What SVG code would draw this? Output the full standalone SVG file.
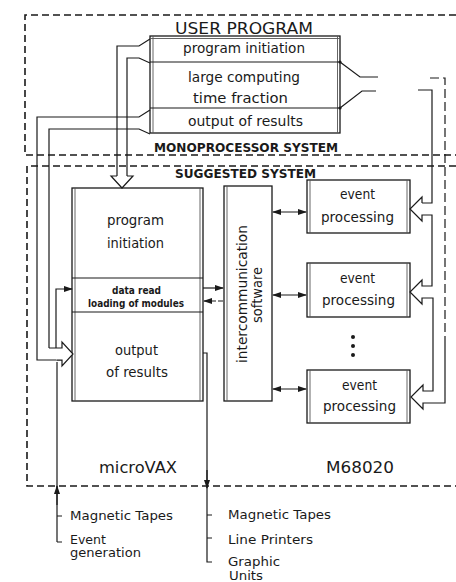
<svg xmlns="http://www.w3.org/2000/svg" width="456" height="582" viewBox="0 0 456 582">
<defs>
<marker id="ah" markerWidth="9" markerHeight="7" refX="8" refY="3.5" orient="auto-start-reverse" markerUnits="userSpaceOnUse">
<path d="M0,0.5 L9,3.5 L0,6.5 z" fill="#1a1a1a"/>
</marker>
<style>
text{font-family:"DejaVu Sans","Liberation Sans",sans-serif;fill:#1a1a1a}
.t{font-size:13.5px}
.b{font-weight:bold}
.ln{fill:none;stroke:#1a1a1a;stroke-width:1.2}
.box{fill:none;stroke:#1a1a1a;stroke-width:1.3}
.in{fill:none;stroke:#555;stroke-width:0.9}
.dash{fill:none;stroke:#1a1a1a;stroke-width:1.6;stroke-dasharray:7 4}
.hol{fill:#fff;stroke:#1a1a1a;stroke-width:1.2;stroke-linejoin:miter}
</style>
</defs>
<rect width="456" height="582" fill="#fff"/>

<g id="monoprocessor-system">
<path class="dash" d="M456,15 H25 V155 H456"/>
<text class="b" x="154" y="152" font-size="13" textLength="184" lengthAdjust="spacingAndGlyphs">MONOPROCESSOR SYSTEM</text>
</g>
<g id="suggested-system">
<path class="dash" d="M456,166 H27 V486 H456"/>
<text class="b" x="175" y="178" font-size="13" textLength="141" lengthAdjust="spacingAndGlyphs">SUGGESTED SYSTEM</text>
</g>

<g id="user-program">
<text x="175" y="34" font-size="16.5" textLength="138" lengthAdjust="spacingAndGlyphs">USER  PROGRAM</text>
<rect class="box" x="150" y="36" width="190" height="97"/>
<path class="in" d="M153,36 V133 M150,38.5 H340 M337.5,36 V133"/>
<path class="ln" d="M150,62 H340 M150,108 H340"/>
<text class="t" x="183" y="53" textLength="122" lengthAdjust="spacingAndGlyphs">program initiation</text>
<text class="t" x="188" y="82" textLength="112" lengthAdjust="spacingAndGlyphs">large computing</text>
<text class="t" x="193" y="103" textLength="95" lengthAdjust="spacingAndGlyphs">time fraction</text>
<text class="t" x="188" y="126" textLength="115" lengthAdjust="spacingAndGlyphs">output of results</text>
</g>

<g id="microvax">
<rect class="box" x="72" y="188" width="131" height="213"/>
<path class="in" d="M75,188 V401 M200,188 V401"/>
<path class="ln" d="M72,278 H203 M72,312 H203"/>
<text x="107" y="225" font-size="14" textLength="57" lengthAdjust="spacingAndGlyphs">program</text>
<text x="107" y="248" font-size="14" textLength="57" lengthAdjust="spacingAndGlyphs">initiation</text>
<text class="b" x="112" y="294" font-size="10" textLength="49" lengthAdjust="spacingAndGlyphs">data read</text>
<text class="b" x="88" y="307" font-size="10" textLength="96" lengthAdjust="spacingAndGlyphs">loading of modules</text>
<text x="115" y="355" font-size="14" textLength="43" lengthAdjust="spacingAndGlyphs">output</text>
<text x="106" y="377" font-size="14" textLength="62" lengthAdjust="spacingAndGlyphs">of results</text>
<text x="99" y="473" font-size="15" textLength="78" lengthAdjust="spacingAndGlyphs">microVAX</text>
</g>

<g id="intercommunication">
<rect class="box" x="224" y="186" width="48" height="215"/>
<path class="in" d="M227,186 V401"/>
<text transform="translate(247,294) rotate(-90)" text-anchor="middle" font-size="14" textLength="138" lengthAdjust="spacingAndGlyphs">intercommunication</text>
<text transform="translate(262,295) rotate(-90)" text-anchor="middle" font-size="14" textLength="56" lengthAdjust="spacingAndGlyphs">software</text>
</g>

<g id="event-processing-1">
<rect class="box" x="307" y="180" width="103" height="53"/>
<path class="in" d="M310,180 V233 M407,180 V233"/>
<text class="t" x="340" y="199" textLength="35" lengthAdjust="spacingAndGlyphs">event</text>
<text class="t" x="321" y="222" textLength="73" lengthAdjust="spacingAndGlyphs">processing</text>
</g>
<g id="event-processing-2">
<rect class="box" x="307" y="263" width="103" height="54"/>
<path class="in" d="M310,263 V317 M407,263 V317"/>
<text class="t" x="340" y="283" textLength="35" lengthAdjust="spacingAndGlyphs">event</text>
<text class="t" x="322" y="305" textLength="73" lengthAdjust="spacingAndGlyphs">processing</text>
</g>
<g id="event-processing-3">
<rect class="box" x="307" y="370" width="103" height="53"/>
<path class="in" d="M310,370 V423 M407,370 V423"/>
<text class="t" x="342" y="390" textLength="35" lengthAdjust="spacingAndGlyphs">event</text>
<text class="t" x="323" y="411" textLength="73" lengthAdjust="spacingAndGlyphs">processing</text>
</g>
<g id="ellipsis" fill="#1a1a1a">
<circle cx="353" cy="337" r="2"/>
<circle cx="353" cy="346" r="2"/>
<circle cx="353" cy="355" r="2"/>
</g>

<g id="m68020">
<text x="326" y="473" font-size="15" textLength="68" lengthAdjust="spacingAndGlyphs">M68020</text>
</g>

<g id="peripherals">
<text x="70" y="520" font-size="13" textLength="103" lengthAdjust="spacingAndGlyphs">Magnetic Tapes</text>
<text x="70" y="544" font-size="12" textLength="36" lengthAdjust="spacingAndGlyphs">Event</text>
<text x="70" y="557" font-size="12" textLength="71" lengthAdjust="spacingAndGlyphs">generation</text>
<text x="228" y="519" font-size="13" textLength="103" lengthAdjust="spacingAndGlyphs">Magnetic Tapes</text>
<text x="228" y="544" font-size="13" textLength="85" lengthAdjust="spacingAndGlyphs">Line Printers</text>
<text x="228" y="566" font-size="12" textLength="52" lengthAdjust="spacingAndGlyphs">Graphic</text>
<text x="229" y="580" font-size="12" textLength="34" lengthAdjust="spacingAndGlyphs">Units</text>
</g>

<g id="connectors">
<path class="ln" d="M150,39 L139,46 H117 V176"/>
<path class="ln" d="M150,63 L139,58 H127 V176"/>
<path class="hol" d="M117,176 H111 L122,188 L133,176 H127"/>
<path class="ln" d="M150,110 L139,117 H37 V360 H62"/>
<path class="ln" d="M150,134 L139,129 H49 V348"/>
<path class="hol" d="M49,348 H62 V342 L73,354 L62,366 V360 H57"/>
<path class="ln" d="M56,348 V289 H72" marker-end="url(#ah)"/>
<path class="ln" d="M57,542 V362"/>
<path class="ln" d="M57,505 V486" marker-end="url(#ah)"/>
<path class="ln" d="M57,516 H62 M57,542 H62"/>
<path class="ln" d="M203,353 H207 V562 H212"/>
<path class="ln" d="M207,470 V488" marker-end="url(#ah)"/>
<path class="ln" d="M207,515 H212 M207,538 H212"/>
<path class="ln" d="M203,288 H223" marker-end="url(#ah)"/>
<path class="ln" d="M223,301 H204" stroke-dasharray="5 2" marker-end="url(#ah)"/>
<path class="ln" d="M273,212 H306" marker-start="url(#ah)" marker-end="url(#ah)"/>
<path class="ln" d="M273,295 H306" marker-start="url(#ah)" marker-end="url(#ah)"/>
<path class="ln" d="M273,389 H306" marker-start="url(#ah)" marker-end="url(#ah)"/>
<path class="ln" d="M340,62 L360,77 H378"/>
<path class="ln" d="M340,108 L362,91 H376"/>
<circle cx="340" cy="62" r="1.6" fill="#1a1a1a"/>
<circle cx="340" cy="108" r="1.6" fill="#1a1a1a"/>
<path class="ln" d="M418,90 H432 V203 H422"/>
<path class="hol" d="M422,203 V197 L410,209 L422,221 V215 H432 V286 H422 V280 L410,292 L422,304 V298 H433 V391 H423 V385 L411,397 L423,409 V403 H445 V340"/>
<path class="ln" d="M430,78 H445 V340" stroke-dasharray="9 4"/>
</g>
</svg>
